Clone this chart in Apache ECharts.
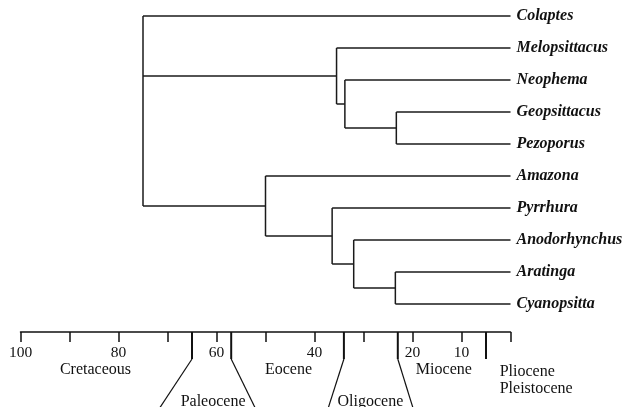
<!DOCTYPE html>
<html>
<head>
<meta charset="utf-8">
<script src="https://cdn.jsdelivr.net/npm/echarts@6/dist/echarts.min.js"></script>
<style>html,body{margin:0;padding:0;background:#fff}#c{width:625px;height:407px}</style>
</head>
<body>
<div id="c"></div>
<script>
// ---- data ----
const taxa = ['Colaptes','Melopsittacus','Neophema','Geopsittacus','Pezoporus','Amazona','Pyrrhura','Anodorhynchus','Aratinga','Cyanopsitta'];
const nodeNames = ['root','australasian','neophemaNode','pezoporineNode','neotropical','pyrrhuraNode','anodorhynchusNode','aratingaNode'];
const nodeAges = [75, 35.5, 33.8, 23.3, 50.0, 36.4, 32.0, 23.5];   // million years ago
const nodeChildren = [
  ['Colaptes','australasian','neotropical'],
  ['Melopsittacus','neophemaNode'],
  ['Neophema','pezoporineNode'],
  ['Geopsittacus','Pezoporus'],
  ['Amazona','pyrrhuraNode'],
  ['Pyrrhura','anodorhynchusNode'],
  ['Anodorhynchus','aratingaNode'],
  ['Aratinga','Cyanopsitta']
];
const tickLabels = [100, 80, 60, 40, 20, 10];
const epochBoundaries = [65, 57, 34, 23, 5];
const flareFrom = [65, 57, 34, 23];
const flareTo = [71.6, 52.1, 37.2, 19.9];
const epochNames = ['Cretaceous','Paleocene','Eocene','Oligocene','Miocene','Pliocene\nPleistocene'];
const epochLabelAges = [84.7, 60.7, 45.3, 28.6, 13.6, 2.2];
const epochLabelRow = [0, 1, 0, 1, 0, 2];

// ---- layout / derived tree geometry ----
const yPos = {}; const ageOf = {};
taxa.forEach((t, i) => { yPos[t] = i; ageOf[t] = 0; });
nodeNames.forEach((n, i) => { ageOf[n] = nodeAges[i]; });
function resolveY(name) {
  if (name in yPos) return yPos[name];
  const k = nodeNames.indexOf(name);
  const ch = nodeChildren[k];
  const y = (resolveY(ch[0]) + resolveY(ch[ch.length - 1])) / 2;
  yPos[name] = y; return y;
}
nodeNames.forEach(resolveY);
const segments = [];
nodeNames.forEach((n, i) => {
  const ch = nodeChildren[i];
  segments.push([nodeAges[i], yPos[ch[0]], nodeAges[i], yPos[ch[ch.length - 1]]]);
  ch.forEach(c => segments.push([nodeAges[i], yPos[c], ageOf[c], yPos[c]]));
});

const YMAX = 9.875;
const serif = '"Liberation Serif", "Times New Roman", serif';
const chart = echarts.init(document.getElementById('c'), null, {renderer: 'canvas'});
chart.setOption({
  animation: false,
  backgroundColor: '#fff',
  grid: {left: 20.5, right: 114.5, top: 16, bottom: 75},
  xAxis: {
    type: 'value', min: 0, max: 100, interval: 10, inverse: true, position: 'bottom',
    axisLine: {show: true, onZero: false, lineStyle: {color: '#111', width: 1.5}},
    axisTick: {show: true, length: 10, lineStyle: {color: '#111', width: 1.5}},
    axisLabel: {
      margin: 13, color: '#111', fontFamily: serif, fontSize: 15.5,
      formatter: v => tickLabels.indexOf(v) >= 0 ? String(v) : ''
    },
    splitLine: {show: false}
  },
  yAxis: {type: 'value', min: 0, max: YMAX, inverse: true, show: false},
  series: [
    {
      type: 'custom', clip: false, silent: true,
      data: segments,
      renderItem: (params, api) => {
        const p1 = api.coord([api.value(0), api.value(1)]);
        const p2 = api.coord([api.value(2), api.value(3)]);
        return {type: 'line', shape: {x1: p1[0], y1: p1[1], x2: p2[0], y2: p2[1]},
          style: {stroke: '#1a1a1a', lineWidth: 1.5}};
      }
    },
    {
      type: 'custom', clip: false, silent: true,
      data: taxa.map((t, i) => [0, i]),
      renderItem: (params, api) => {
        const p = api.coord([api.value(0), api.value(1)]);
        return {type: 'text', x: p[0] + 6, y: p[1],
          style: {text: taxa[params.dataIndex], fill: '#111',
            font: 'italic bold 16px ' + serif,
            align: 'left', verticalAlign: 'middle', textAlign: 'left', textVerticalAlign: 'middle'}};
      }
    },
    {
      type: 'custom', clip: false, silent: true,
      data: epochBoundaries.map(a => [a]),
      renderItem: (params, api) => {
        const p = api.coord([api.value(0), YMAX]);
        return {type: 'line', shape: {x1: p[0], y1: p[1], x2: p[0], y2: p[1] + 27},
          style: {stroke: '#111', lineWidth: 2}};
      }
    },
    {
      type: 'custom', clip: false, silent: true,
      data: flareFrom.map((a, i) => [a, flareTo[i]]),
      renderItem: (params, api) => {
        const p = api.coord([api.value(0), YMAX]);
        const q = api.coord([api.value(1), YMAX]);
        return {type: 'line', shape: {x1: p[0], y1: p[1] + 27, x2: q[0], y2: p[1] + 76},
          style: {stroke: '#111', lineWidth: 1.2}};
      }
    },
    {
      type: 'custom', clip: false, silent: true,
      data: epochLabelAges.map((a, i) => [a, epochLabelRow[i]]),
      renderItem: (params, api) => {
        const p = api.coord([api.value(0), YMAX]);
        const row = api.value(1);
        const dy = row === 0 ? 38 : row === 1 ? 70 : 48;
        const al = row === 2 ? 'left' : 'center';
        return {type: 'text', x: p[0], y: p[1] + dy,
          style: {text: epochNames[params.dataIndex], fill: '#111',
            font: '16px ' + serif, lineHeight: 17,
            align: al, verticalAlign: 'middle', textAlign: al, textVerticalAlign: 'middle'}};
      }
    }
  ]
});
</script>
</body>
</html>
